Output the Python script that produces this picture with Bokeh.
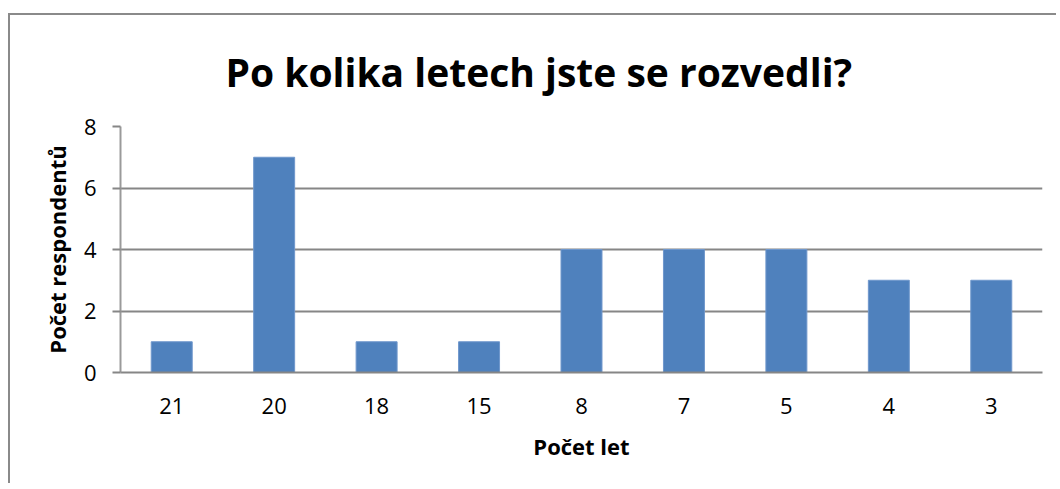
from bokeh.plotting import figure
from bokeh.models import Title, FixedTicker
from bokeh.embed import file_html
from bokeh.resources import INLINE

categories = ["21", "20", "18", "15", "8", "7", "5", "4", "3"]
counts = [1, 7, 1, 1, 4, 4, 4, 3, 3]
title_text = "Po kolika letech jste se rozvedli?"
x_title = "Počet let"
y_title = "Počet respondentů"
y_ticks = [0, 2, 4, 6, 8]

FONT = "Open Sans"
GRID = "#868686"

p = figure(width=1048, height=470, x_range=categories, y_range=(0, 8),
           output_backend="svg", toolbar_location=None,
           min_border_left=110, min_border_right=16,
           min_border_top=111, min_border_bottom=113,
           margin=(13, 0, 0, 8),
           styles={"border-left": "2px solid #8a8a8a",
                   "border-top": "2px solid #8a8a8a"})

p.vbar(x=categories, top=counts, width=0.4, fill_color="#4F81BD",
       line_color="#6F97CC", line_width=1)

p.outline_line_color = None
p.background_fill_color = "white"
p.border_fill_color = "white"

p.xgrid.grid_line_color = None
p.ygrid.grid_line_color = GRID
p.ygrid.grid_line_width = 2
p.yaxis.ticker = FixedTicker(ticks=y_ticks)

p.yaxis.axis_line_color = "#9a9a9a"
p.yaxis.axis_line_width = 2
p.yaxis.major_tick_line_color = GRID
p.yaxis.major_tick_line_width = 2
p.yaxis.major_tick_in = 0
p.yaxis.major_tick_out = 8
p.yaxis.minor_tick_line_color = None
p.yaxis.major_label_standoff = 16
p.yaxis.major_label_text_font = FONT
p.yaxis.major_label_text_font_size = "22px"
p.yaxis.major_label_text_color = "black"
p.yaxis.axis_label = y_title
p.yaxis.axis_label_text_font = FONT
p.yaxis.axis_label_text_font_style = "bold"
p.yaxis.axis_label_text_font_size = "22px"
p.yaxis.axis_label_text_color = "black"
p.yaxis.axis_label_standoff = 9

p.xaxis.axis_line_color = GRID
p.xaxis.axis_line_width = 2
p.xaxis.major_tick_line_color = None
p.xaxis.minor_tick_line_color = None
p.xaxis.major_label_standoff = 19
p.xaxis.major_label_text_font = FONT
p.xaxis.major_label_text_font_size = "22px"
p.xaxis.major_label_text_color = "black"
p.xaxis.axis_label = x_title
p.xaxis.axis_label_text_font = FONT
p.xaxis.axis_label_text_font_style = "bold"
p.xaxis.axis_label_text_font_size = "22px"
p.xaxis.axis_label_text_color = "black"
p.xaxis.axis_label_standoff = 14

p.add_layout(Title(text=title_text, align="left", offset=105, standoff=53,
                   vertical_align="top",
                   text_font=FONT, text_font_style="bold",
                   text_font_size="39px", text_color="black"), "above")

open("out.html", "w").write(file_html(p, INLINE))
